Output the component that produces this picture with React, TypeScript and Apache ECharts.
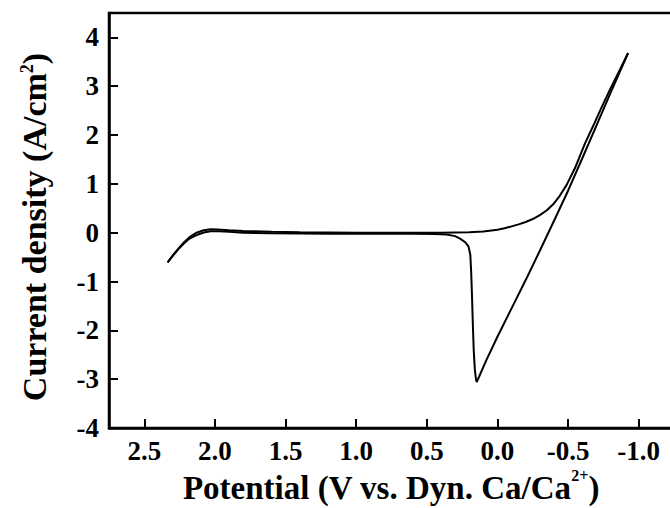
import { useEffect, useRef } from "react";
import * as echarts from "echarts";

// Scan toward negative potentials (upper branch)
const potentialForward = [2.335, 2.3, 2.26, 2.22, 2.18, 2.13, 2.08, 2.03, 1.98, 1.9, 1.8, 1.6, 1.4, 1.2, 1.0, 0.8, 0.6, 0.4, 0.2, 0.1, 0.0, -0.05, -0.1, -0.15, -0.2, -0.25, -0.3, -0.35, -0.4, -0.44, -0.49, -0.55, -0.62, -0.68, -0.73, -0.8, -0.86, -0.925];
const currentForward = [-0.61, -0.47, -0.33, -0.2, -0.09, 0.0, 0.05, 0.07, 0.065, 0.05, 0.035, 0.02, 0.01, 0.005, 0.0, 0.0, 0.0, 0.0, 0.01, 0.025, 0.06, 0.09, 0.13, 0.17, 0.22, 0.28, 0.36, 0.46, 0.6, 0.75, 0.98, 1.33, 1.83, 2.2, 2.52, 2.95, 3.3, 3.68];

// Return scan (straight branch, peak and flat part)
const potentialReverse = [-0.925, -0.8, -0.7, -0.6, -0.5, -0.4, -0.3, -0.2, -0.1, 0.0, 0.08, 0.13, 0.147, 0.152, 0.16, 0.168, 0.175, 0.18, 0.186, 0.192, 0.205, 0.23, 0.265, 0.3, 0.36, 0.45, 0.6, 0.8, 1.0, 1.2, 1.4, 1.6, 1.8, 1.9, 1.97, 2.03, 2.08, 2.13, 2.18, 2.22, 2.26, 2.3, 2.335];
const currentReverse = [3.68, 2.86, 2.19, 1.52, 0.86, 0.24, -0.37, -0.97, -1.55, -2.13, -2.62, -2.95, -3.06, -3.0, -2.8, -2.4, -1.8, -1.3, -0.8, -0.45, -0.28, -0.19, -0.12, -0.07, -0.035, -0.025, -0.02, -0.02, -0.02, -0.02, -0.015, -0.01, 0.0, 0.02, 0.03, 0.03, 0.005, -0.05, -0.12, -0.22, -0.34, -0.48, -0.61];

const xTicks = [2.5, 2.0, 1.5, 1.0, 0.5, 0.0, -0.5, -1.0];
const yTicks = [-4, -3, -2, -1, 0, 1, 2, 3, 4];

const FONT = '"Liberation Serif", "Times New Roman", serif';

export default function App() {
  const ref = useRef<HTMLDivElement>(null);
  useEffect(() => {
    document.body.style.margin = "0";
    document.body.style.overflow = "hidden";
    document.documentElement.style.overflow = "hidden";
    const chart = echarts.init(ref.current!, null, { renderer: "svg" });
    const labelStyle = {
      color: "#000",
      fontFamily: FONT,
      fontWeight: "bold" as const,
      fontSize: 27,
    };
    const titleRich = (size: number, supSize: number, supPad: number) => ({
      m: { fontFamily: FONT, fontWeight: "bold", fontSize: size, lineHeight: size, verticalAlign: "bottom", fill: "#000" },
      s: { fontFamily: FONT, fontWeight: "bold", fontSize: supSize, lineHeight: supSize, padding: [0, 0, supPad, 0], verticalAlign: "bottom", fill: "#000" },
    });
    chart.setOption({
      animation: false,
      backgroundColor: "#fff",
      grid: {
        left: 109,
        top: 13,
        width: 565,
        height: 415,
        show: true,
        borderColor: "#000",
        borderWidth: 2.5,
        containLabel: false,
      },
      xAxis: {
        type: "value",
        min: -1.25,
        max: 2.75,
        inverse: true,
        axisLine: { show: true, onZero: false, lineStyle: { color: "#000", width: 2.5 } },
        axisTick: { show: true, inside: true, length: 9, customValues: xTicks, lineStyle: { color: "#000", width: 2 } },
        axisLabel: { ...labelStyle, customValues: xTicks, margin: 9, formatter: (v: number) => v.toFixed(1) },
        splitLine: { show: false },
      },
      yAxis: {
        type: "value",
        min: -4,
        max: 4.5,
        axisLine: { show: true, onZero: false, lineStyle: { color: "#000", width: 2.5 } },
        axisTick: { show: true, inside: true, length: 9, customValues: yTicks, lineStyle: { color: "#000", width: 2 } },
        axisLabel: { ...labelStyle, customValues: yTicks, margin: 10, formatter: (v: number) => String(v) },
        splitLine: { show: false },
      },
      series: [
        {
          type: "line",
          data: potentialForward.map((x, i) => [x, currentForward[i]]),
          showSymbol: false,
          symbol: "none",
          smooth: false,
          lineStyle: { color: "#000", width: 2 },
        },
        {
          type: "line",
          data: potentialReverse.map((x, i) => [x, currentReverse[i]]),
          showSymbol: false,
          symbol: "none",
          smooth: false,
          lineStyle: { color: "#000", width: 2 },
        },
      ],
      graphic: [
        {
          type: "text",
          x: 391,
          y: 471,
          style: {
            text: "{m|Potential (V vs. Dyn. Ca/Ca}{s|2+}{m|)}",
            align: "center",
            verticalAlign: "top",
            rich: titleRich(33, 16, 21),
          },
        },
        {
          type: "text",
          x: 17,
          y: 227,
          rotation: Math.PI / 2,
          style: {
            text: "{m|Current density (A/cm}{s|2}{m|)}",
            align: "center",
            verticalAlign: "top",
            rich: titleRich(34, 18, 15),
          },
        },
      ],
    });
    return () => chart.dispose();
  }, []);
  return <div ref={ref} style={{ width: 680, height: 508 }} />;
}
